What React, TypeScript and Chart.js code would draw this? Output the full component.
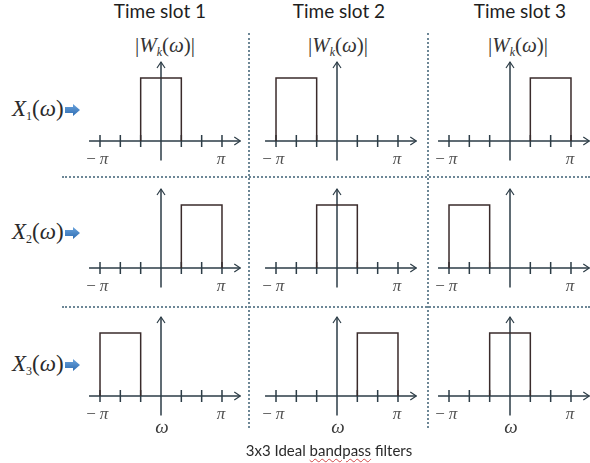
import React, { useEffect, useRef } from "react";
import { Chart, registerables } from "chart.js";

Chart.register(...registerables);

// ---- data ----
const slotTitles = ["Time slot 1", "Time slot 2", "Time slot 3"];
const rowSubscripts = ["1", "2", "3"];
// tick positions in units of π/3
const tickValues = [-3, -2, -1, 1, 2, 3];
const tickLabelMinusPi = "π";
const tickLabelPi = "π";
const omegaLabel = "ω";
// passbands [from, to] in units of π/3, one per time slot (column)
const row1Bands: [number, number][] = [[-1, 1], [-3, -1], [1, 3]];
const row2Bands: [number, number][] = [[1, 3], [-1, 1], [-3, -1]];
const row3Bands: [number, number][] = [[-3, -1], [1, 3], [-1, 1]];
const bandGain = 1;
const caption = ["3x3 Ideal ", "bandpass", " filters"];

// ---- layout ----
const colCenters = [161, 337, 510];
const titleCenters = [160, 339, 520];
const wLabelCenters = [165, 338, 518];
const rowAxes = [141, 268, 396];
const rowLabelY = [110, 233, 365];
const CW = 160;
const CH = 140;

const axisColor = "#2d3d47";
const boxColor = "#3a2b2b";

const axesPlugin = {
  id: "panelAxes",
  beforeDatasetsDraw(chart: any, _a: any, opts: any) {
    const { ctx } = chart;
    const xs = chart.scales.x;
    const ys = chart.scales.y;
    const x0 = xs.getPixelForValue(0);
    const y0 = ys.getPixelForValue(0);
    const xl = xs.getPixelForValue(-3.54);
    const xr = xs.getPixelForValue(3.9);
    const yt = ys.getPixelForValue(1.254);
    const yb = ys.getPixelForValue(-0.31);
    ctx.save();
    ctx.strokeStyle = axisColor;
    ctx.lineWidth = 1.5;
    ctx.beginPath();
    ctx.moveTo(xl, y0);
    ctx.lineTo(xr, y0);
    ctx.moveTo(x0, yb);
    ctx.lineTo(x0, yt);
    for (const t of tickValues) {
      const px = xs.getPixelForValue(t);
      ctx.moveTo(px, y0 - 6);
      ctx.lineTo(px, y0 + 6);
    }
    ctx.stroke();
    ctx.lineWidth = 1.2;
    ctx.beginPath();
    ctx.moveTo(xr - 6, y0 - 4);
    ctx.lineTo(xr, y0);
    ctx.lineTo(xr - 6, y0 + 4);
    ctx.moveTo(x0 - 4, yt + 6);
    ctx.lineTo(x0, yt);
    ctx.lineTo(x0 + 4, yt + 6);
    ctx.stroke();
    // labels
    ctx.fillStyle = "#505050";
    ctx.textAlign = "center";
    ctx.textBaseline = "middle";
    const pm = xs.getPixelForValue(-3);
    const pp = xs.getPixelForValue(3);
    ctx.font = "17px 'Liberation Serif', serif";
    ctx.fillText("−", pm - 9, y0 + 19);
    ctx.font = "italic 17px 'Liberation Serif', serif";
    ctx.fillText(tickLabelMinusPi, pm + 4, y0 + 19);
    ctx.fillText(tickLabelPi, pp - 1, y0 + 19);
    if (opts && opts.omega) {
      ctx.font = "italic 19px 'Liberation Serif', serif";
      ctx.fillStyle = "#3a3a3a";
      ctx.fillText(omegaLabel, x0 + 1, y0 + 32);
    }
    ctx.restore();
  },
};

function Panel({ band, left, top, omega }: { band: [number, number]; left: number; top: number; omega: boolean }) {
  const ref = useRef<HTMLCanvasElement>(null);
  useEffect(() => {
    if (!ref.current) return;
    const [a, b] = band;
    const chart = new Chart(ref.current, {
      type: "line",
      data: {
        datasets: [
          {
            data: [
              { x: a, y: 0 },
              { x: a, y: bandGain },
              { x: b, y: bandGain },
              { x: b, y: 0 },
            ],
            borderColor: boxColor,
            borderWidth: 1.5,
            pointRadius: 0,
            tension: 0,
            fill: false,
            clip: false as any,
          },
        ],
      },
      options: {
        responsive: false,
        animation: false,
        layout: { padding: 0 },
        scales: {
          x: { type: "linear", min: -3.935, max: 3.935, display: false },
          y: { type: "linear", min: -50 / 63, max: 90 / 63, display: false },
        },
        plugins: {
          legend: { display: false },
          tooltip: { enabled: false },
          panelAxes: { omega } as any,
        } as any,
      },
      plugins: [axesPlugin as any],
    });
    return () => chart.destroy();
  }, []);
  return (
    <canvas
      ref={ref}
      width={CW}
      height={CH}
      style={{ position: "absolute", left, top, width: CW, height: CH }}
    />
  );
}

const serif = "'Liberation Serif', 'Times New Roman', serif";
const sans = "Lato, 'Open Sans', sans-serif";

function BlueArrow({ left, top }: { left: number; top: number }) {
  return (
    <svg width={16} height={12} style={{ position: "absolute", left, top }}>
      <defs>
        <linearGradient id="ag" x1="0" y1="0" x2="0" y2="1">
          <stop offset="0" stopColor="#6aa3dc" />
          <stop offset="1" stopColor="#2f6db3" />
        </linearGradient>
      </defs>
      <polygon points="0,3 8,3 8,0 15,6 8,12 8,9 0,9" fill="url(#ag)" />
    </svg>
  );
}

export default function App() {
  const bands = [row1Bands, row2Bands, row3Bands];
  const center: React.CSSProperties = { position: "absolute", transform: "translate(-50%, -50%)", whiteSpace: "nowrap" };
  return (
    <div style={{ position: "fixed", left: 0, top: 0, width: 590, height: 463, background: "#fff", overflow: "hidden" }}>
      {slotTitles.map((t, i) => (
        <div key={t} style={{ ...center, left: titleCenters[i], top: 10, fontFamily: sans, fontSize: 19, color: "#1e1e1e" }}>
          {t}
        </div>
      ))}
      {wLabelCenters.map((cx, i) => (
        <div key={"w" + i} style={{ ...center, left: cx, top: 46, fontFamily: serif, fontSize: 21, color: "#333" }}>
          |<i>W</i>
          <sub style={{ fontSize: 12, fontStyle: "italic", verticalAlign: "-4px" }}>k</sub>(<i>ω</i>)|
        </div>
      ))}
      {/* separators */}
      <div style={{ position: "absolute", left: 62, top: 176, width: 528, height: 0, borderTop: "2px dotted #6d8796" }} />
      <div style={{ position: "absolute", left: 62, top: 306, width: 528, height: 0, borderTop: "2px dotted #6d8796" }} />
      <div style={{ position: "absolute", left: 248, top: 33, width: 0, height: 395, borderLeft: "2px dotted #6d8796" }} />
      <div style={{ position: "absolute", left: 427, top: 33, width: 0, height: 395, borderLeft: "2px dotted #6d8796" }} />
      {rowSubscripts.map((s, r) => (
        <React.Fragment key={"x" + s}>
          <div style={{ position: "absolute", left: 12, top: rowLabelY[r], transform: "translateY(-50%)", fontFamily: serif, fontSize: 23, color: "#2a2a2a", whiteSpace: "nowrap" }}>
            <i>X</i>
            <sub style={{ fontSize: 12, verticalAlign: "-4px" }}>{s}</sub>(<i>ω</i>)
          </div>
          <BlueArrow left={65} top={rowLabelY[r] - 6} />
        </React.Fragment>
      ))}
      {bands.map((row, r) =>
        row.map((band, c) => (
          <Panel key={r + "-" + c} band={band} left={colCenters[c] - CW / 2} top={rowAxes[r] - 90} omega={r === 2} />
        ))
      )}
      <div style={{ ...center, left: 329, top: 450, fontFamily: sans, fontSize: 15, color: "#2a2a2a" }}>
        {caption[0]}
        <span style={{ textDecoration: "underline wavy #d04848", textDecorationThickness: "1px", textUnderlineOffset: "2px" }}>{caption[1]}</span>
        {caption[2]}
      </div>
    </div>
  );
}
